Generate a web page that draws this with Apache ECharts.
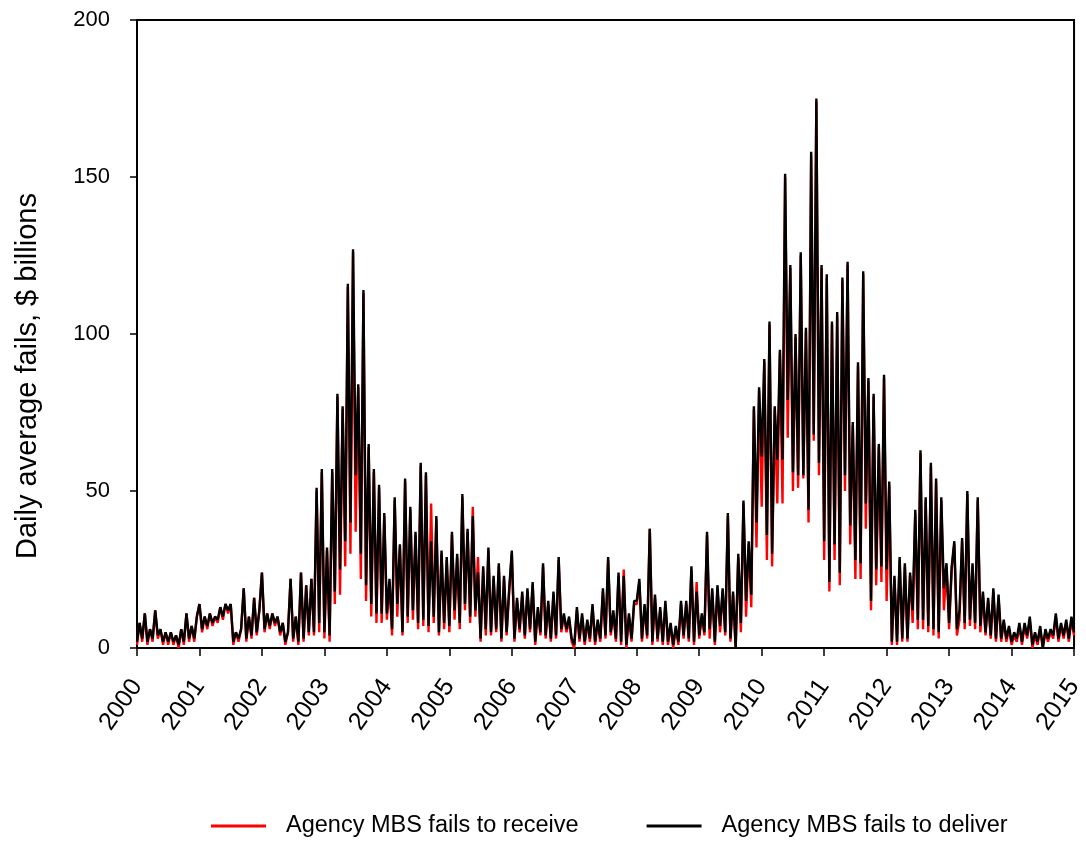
<!DOCTYPE html>
<html>
<head>
<meta charset="utf-8">
<script src="https://cdn.jsdelivr.net/npm/echarts@6/dist/echarts.min.js"></script>
<style>
  html, body { margin: 0; padding: 0; background: #fff; }
  #chart { width: 1086px; height: 846px; }
</style>
</head>
<body>
<div id="chart"></div>
<script>
// half-monthly readings, 2000.0 .. 2015.0 (24 per year)
var startYear = 2000;
var stepsPerYear = 24;
var yearTicks = [2000, 2001, 2002, 2003, 2004, 2005, 2006, 2007, 2008, 2009, 2010, 2011, 2012, 2013, 2014, 2015];
var yTitle = "Daily average fails, $ billions";

// Agency MBS fails to deliver ($ billions)
var failsDeliver = [
  2, 8, 3, 11, 2, 6, 3, 12, 4, 6, 2, 5, 2, 5, 2, 4, 1, 6, 2, 11, 3, 7, 3, 10,
  14, 6, 10, 7, 11, 8, 10, 9, 13, 10, 14, 12, 14, 2, 5, 3, 6, 19, 3, 10, 4, 16, 5, 12,
  24, 6, 11, 7, 11, 8, 10, 5, 8, 2, 5, 22, 3, 10, 2, 24, 3, 20, 5, 22, 5, 51, 8, 57,
  5, 32, 4, 57, 18, 81, 25, 77, 34, 116, 40, 127, 55, 84, 30, 114, 20, 65, 14, 57, 11, 52, 11, 43,
  11, 22, 6, 48, 14, 33, 5, 54, 10, 45, 12, 37, 8, 59, 9, 56, 7, 34, 10, 42, 5, 31, 8, 29,
  7, 37, 12, 30, 8, 49, 14, 38, 10, 42, 12, 24, 3, 26, 6, 32, 5, 23, 6, 27, 3, 23, 5, 19,
  31, 3, 16, 6, 18, 4, 19, 6, 21, 2, 13, 5, 27, 4, 15, 3, 18, 4, 29, 6, 11, 6, 10, 3,
  1, 13, 3, 11, 2, 9, 3, 14, 2, 9, 3, 19, 4, 29, 5, 12, 3, 24, 2, 23, 1, 11, 3, 15,
  15, 22, 3, 14, 4, 38, 2, 17, 3, 13, 2, 15, 2, 8, 1, 7, 2, 15, 4, 15, 3, 26, 2, 18,
  4, 11, 5, 37, 6, 19, 2, 20, 7, 19, 5, 43, 3, 18, 0, 30, 8, 47, 15, 34, 17, 77, 40, 83,
  61, 92, 36, 104, 30, 77, 60, 95, 60, 151, 79, 122, 56, 100, 55, 126, 55, 102, 44, 158, 68, 175, 59, 122,
  34, 119, 21, 104, 33, 107, 24, 118, 55, 123, 39, 72, 28, 91, 27, 120, 46, 86, 15, 81, 25, 65, 26, 87,
  25, 53, 2, 23, 2, 29, 3, 27, 3, 24, 12, 44, 9, 63, 9, 48, 7, 59, 6, 54, 5, 48, 19, 27,
  8, 26, 34, 6, 12, 35, 8, 50, 9, 27, 8, 48, 7, 18, 5, 16, 4, 19, 3, 17, 3, 9, 3, 7,
  2, 5, 3, 8, 2, 8, 4, 10, 1, 5, 2, 7, 0, 6, 3, 6, 4, 11, 3, 8, 4, 9, 3, 10,
  5
];

// Agency MBS fails to receive ($ billions)
var failsReceive = [
  1, 8, 2, 11, 1, 6, 2, 12, 3, 6, 1, 5, 1, 5, 1, 4, 0, 6, 1, 11, 2, 7, 2, 10,
  14, 5, 10, 6, 11, 7, 10, 8, 13, 9, 14, 11, 14, 1, 5, 2, 6, 19, 2, 10, 3, 16, 4, 12,
  24, 5, 11, 6, 11, 7, 10, 4, 8, 1, 5, 22, 2, 10, 1, 24, 2, 20, 4, 22, 4, 50, 5, 56,
  3, 31, 2, 56, 14, 80, 17, 76, 26, 115, 30, 126, 37, 83, 22, 113, 15, 64, 10, 56, 8, 51, 8, 42,
  9, 21, 4, 47, 10, 32, 4, 53, 8, 44, 9, 36, 6, 58, 7, 55, 5, 46, 8, 41, 4, 30, 6, 28,
  5, 36, 9, 29, 6, 48, 12, 37, 8, 45, 10, 29, 2, 25, 4, 31, 4, 22, 5, 26, 2, 22, 4, 18,
  30, 2, 15, 5, 17, 3, 18, 5, 20, 1, 12, 4, 26, 3, 14, 2, 17, 3, 28, 5, 10, 5, 9, 2,
  0, 12, 2, 10, 1, 8, 2, 13, 1, 8, 2, 18, 3, 28, 4, 11, 2, 23, 1, 25, 0, 10, 2, 14,
  14, 21, 2, 13, 3, 38, 1, 16, 2, 12, 1, 14, 1, 7, 0, 6, 1, 14, 3, 14, 2, 25, 1, 21,
  3, 10, 4, 36, 3, 18, 1, 19, 5, 18, 4, 42, 2, 17, 0, 29, 5, 46, 10, 33, 13, 76, 32, 82,
  45, 91, 28, 103, 26, 76, 46, 94, 46, 150, 67, 121, 50, 99, 51, 125, 54, 101, 40, 157, 66, 174, 55, 121,
  28, 118, 18, 103, 28, 106, 20, 117, 50, 122, 33, 71, 22, 90, 22, 119, 38, 85, 12, 80, 20, 64, 21, 86,
  15, 52, 1, 22, 1, 28, 2, 26, 2, 23, 8, 43, 6, 62, 6, 47, 5, 58, 4, 53, 3, 47, 12, 26,
  6, 25, 33, 4, 9, 34, 6, 49, 7, 26, 6, 47, 5, 17, 4, 15, 3, 18, 2, 16, 2, 8, 2, 6,
  1, 4, 2, 7, 1, 7, 3, 9, 0, 4, 1, 6, 0, 5, 2, 5, 3, 10, 2, 7, 3, 8, 2, 9,
  4
];

function toPoints(values) {
  return values.map(function(v, i) {
    return [startYear + i / stepsPerYear, v];
  });
}

var font = "Liberation Sans";
var chart = echarts.init(document.getElementById("chart"), null, { renderer: "canvas" });

chart.setOption({
  animation: false,
  backgroundColor: "#fff",
  grid: {
    left: 137,
    right: 9,
    top: 20,
    bottom: 198,
    show: true,
    borderColor: "#000",
    borderWidth: 2
  },
  // y title sits a bit below the axis middle in the original
  graphic: [
    {
      type: "text",
      x: 28,
      y: 376,
      rotation: Math.PI / 2,
      style: {
        text: yTitle,
        fontFamily: font,
        fontSize: 29,
        fill: "#000",
        align: "center",
        verticalAlign: "middle"
      }
    }
  ],
  legend: {
    top: 809,
    left: 206,
    itemGap: 68,
    itemWidth: 55,
    itemHeight: 3,
    icon: "rect",
    textStyle: {
      fontFamily: font,
      fontSize: 23.5,
      color: "#000",
      padding: [0, 0, 0, 15]
    },
    data: ["Agency MBS fails to receive", "Agency MBS fails to deliver"]
  },
  xAxis: {
    type: "value",
    min: yearTicks[0],
    max: yearTicks[yearTicks.length - 1],
    interval: 1,
    axisLine: { show: true, lineStyle: { color: "#000", width: 2 } },
    axisTick: { show: true, inside: false, length: 8, lineStyle: { color: "#000", width: 1.5 } },
    splitLine: { show: false },
    axisLabel: {
      rotate: 55,
      margin: 34,
      fontFamily: font,
      fontSize: 25,
      color: "#000",
      formatter: function(v) { return String(v); }
    }
  },
  yAxis: {
    type: "value",
    min: 0,
    max: 200,
    interval: 50,
    axisLine: { show: true, lineStyle: { color: "#000", width: 2 } },
    axisTick: { show: true, inside: false, length: 7, lineStyle: { color: "#000", width: 1.5 } },
    splitLine: { show: false },
    axisLabel: { margin: 27, fontFamily: font, fontSize: 22, color: "#000" }
  },
  series: [
    {
      name: "Agency MBS fails to receive",
      type: "line",
      showSymbol: false,
      symbol: "none",
      color: "#ff0000",
      lineStyle: { color: "#ff0000", width: 2.4 },
      data: toPoints(failsReceive)
    },
    {
      name: "Agency MBS fails to deliver",
      type: "line",
      showSymbol: false,
      symbol: "none",
      color: "#000",
      lineStyle: { color: "#000", width: 2.4 },
      data: toPoints(failsDeliver)
    }
  ]
});
</script>
</body>
</html>
